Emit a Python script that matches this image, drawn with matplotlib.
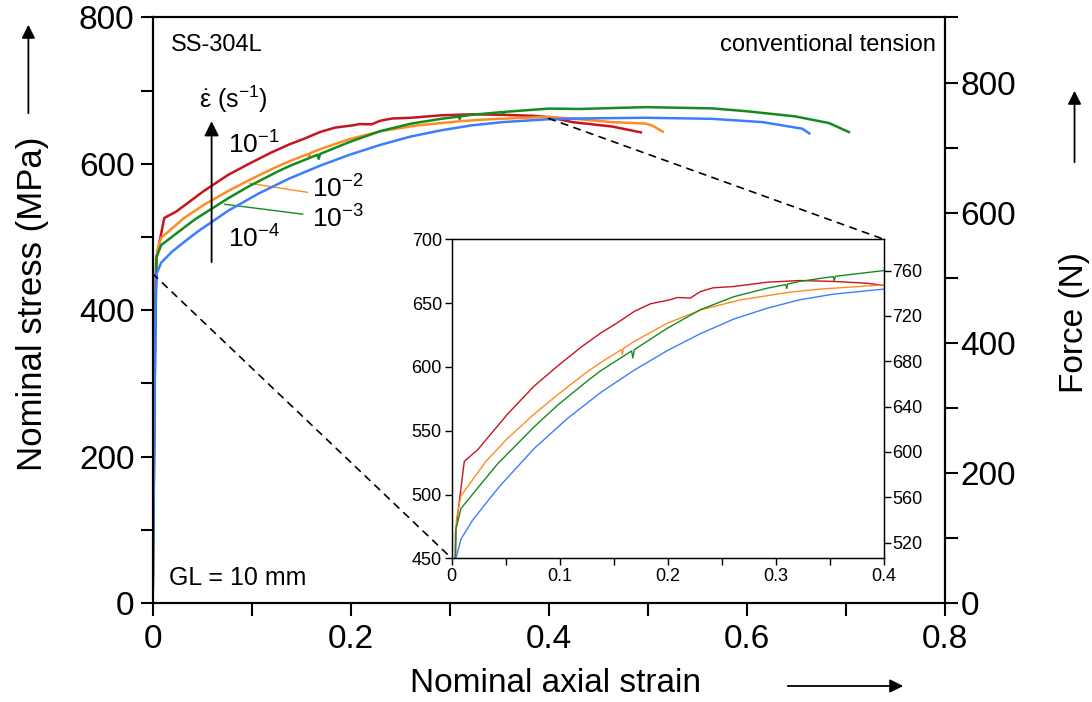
import numpy as np
import matplotlib
matplotlib.use('Agg')
import matplotlib.pyplot as plt
from matplotlib.patches import ConnectionPatch, FancyArrowPatch
from matplotlib.ticker import MultipleLocator, FixedLocator

plt.rcParams['font.family'] = ['Liberation Sans', 'DejaVu Sans']
plt.rcParams['mathtext.fontset'] = 'custom'
plt.rcParams['mathtext.rm'] = 'Liberation Sans'
plt.rcParams['mathtext.it'] = 'Liberation Sans:italic'

# strain rates and colours
rate_labels = ['$10^{-1}$', '$10^{-2}$', '$10^{-3}$', '$10^{-4}$']
colors = ['#C8141E', '#FF8C1E', '#168A1E', '#3C7DFF']

# nominal strain / nominal stress (MPa)
strain_1 = [0, 0.001, 0.002, 0.0035, 0.0117, 0.024, 0.0517, 0.0763, 0.0978, 0.119,
            0.138, 0.153, 0.169, 0.184, 0.202, 0.209, 0.221, 0.230, 0.242, 0.261,
            0.292, 0.322, 0.353, 0.384, 0.40, 0.424, 0.464, 0.493]
stress_1 = [0, 150, 330, 470, 526, 535, 563, 585, 600.5, 615,
            626.6, 634.4, 643.5, 649.5, 652.6, 654.4, 654, 659, 662, 663,
            666.4, 667.7, 667, 665.6, 663.8, 657, 651, 643]

strain_2 = [0, 0.001, 0.002, 0.003, 0.0045, 0.0086, 0.0317, 0.0517, 0.0763, 0.0978,
            0.122, 0.138, 0.157, 0.158, 0.159, 0.169, 0.199, 0.2317, 0.267, 0.312,
            0.341, 0.40, 0.431, 0.464, 0.498, 0.505, 0.515]
stress_2 = [0, 140, 300, 430, 481, 499, 526, 544, 563, 578,
            594, 603.5, 613.5, 610, 614.5, 620, 634, 645, 652.5, 658.5,
            661, 664.3, 661, 657, 655, 652, 644]

strain_3 = [0, 0.001, 0.002, 0.003, 0.004, 0.0086, 0.024, 0.0425, 0.0763, 0.098,
            0.127, 0.138, 0.1665, 0.1677, 0.169, 0.199, 0.230,
            0.261, 0.292, 0.309, 0.310, 0.311, 0.322, 0.353, 0.354, 0.355, 0.40,
            0.431, 0.498, 0.565, 0.599, 0.649, 0.683, 0.703]
stress_3 = [0, 140, 290, 420, 473, 489, 505, 524, 553, 570,
            590, 597, 612.5, 607, 613.5, 630, 644.8,
            655, 661.7, 664.5, 661.5, 665, 667, 670.8, 667.5, 671, 675.5,
            675, 677.5, 675.8, 672, 664.8, 655.7, 643.4]

strain_4 = [0, 0.001, 0.002, 0.003, 0.004, 0.0086, 0.0195, 0.0363, 0.0455, 0.0763,
            0.107, 0.138, 0.169, 0.199, 0.230, 0.261, 0.292, 0.322, 0.353, 0.40,
            0.431, 0.498, 0.565, 0.616, 0.656, 0.663]
stress_4 = [0, 130, 280, 400, 450, 465, 480, 498, 507.5, 536,
            559.5, 580, 597.5, 612.5, 626, 637.5, 646, 652.6, 657, 661,
            662, 663, 661.5, 657, 648, 641.6]

strains = [strain_1, strain_2, strain_3, strain_4]
stresses = [stress_1, stress_2, stress_3, stress_4]

area = 1.125  # force (N) per nominal stress (MPa)

fig = plt.figure(figsize=(10.92, 7.02), dpi=100)
ax = fig.add_axes([0.1398, 0.141, 0.7256, 0.8341])

for s, t, c in zip(strains, stresses, colors):
    ax.plot(s, t, color=c, lw=1.8, zorder=3)

ax.set_xlim(0, 0.8)
ax.set_ylim(0, 800)
ax.xaxis.set_major_locator(FixedLocator([0, 0.2, 0.4, 0.6, 0.8]))
ax.xaxis.set_minor_locator(MultipleLocator(0.1))
ax.yaxis.set_major_locator(MultipleLocator(200))
ax.yaxis.set_minor_locator(MultipleLocator(100))
ax.set_xticklabels(['0', '0.2', '0.4', '0.6', '0.8'])
ax.tick_params(axis='both', which='major', direction='out', length=9, width=1.5, labelsize=24)
ax.tick_params(axis='both', which='minor', direction='out', length=9, width=1.5)
ax.tick_params(axis='y', pad=4)
ax.tick_params(axis='x', pad=6)
for sp in ax.spines.values():
    sp.set_linewidth(1.5)

# right axis: force
ax2 = ax.twinx()
ax2.set_ylim(0, 800 * area)
ax2.yaxis.set_major_locator(MultipleLocator(200))
ax2.yaxis.set_minor_locator(MultipleLocator(100))
ax2.tick_params(axis='y', which='both', direction='out', length=9, width=1.5, labelsize=24, pad=2)
for sp in ax2.spines.values():
    sp.set_linewidth(1.5)

# axis titles with arrows
fig.text(555 / 1092, 1 - 684 / 702, 'Nominal axial strain', fontsize=24, ha='center', va='center')
fig.text(0.030, 0.567, 'Nominal stress (MPa)', rotation=90, fontsize=25, ha='center', va='center')
fig.text(1074 / 1092, 0.54, 'Force (N)', rotation=90, fontsize=24, ha='center', va='center')
for p0, p1 in [((0.026, 1 - 116 / 702), (0.026, 1 - 22 / 702)),
               ((0.984, 1 - 165 / 702), (0.984, 1 - 88 / 702)),
               ((785 / 1092, 1 - 686 / 702), (906 / 1092, 1 - 686 / 702))]:
    fig.patches.append(FancyArrowPatch(p0, p1, transform=fig.transFigure, arrowstyle='-|>',
                                       mutation_scale=20, lw=1.3, color='black'))

# annotations
ax.text(0.018, 762, 'SS-304L', fontsize=17, va='center', ha='left')
ax.text(0.791, 763, 'conventional tension', fontsize=17, va='center', ha='right')
ax.text(0.016, 34, 'GL = 10 mm', fontsize=18, va='center', ha='left')
ax.text(0.047, 688, r'$\mathrm{\dot{\varepsilon}}$ (s$^{-1}$)', fontsize=18, va='center', ha='left')
ax.annotate('', xy=(0.0595, 662), xytext=(0.0595, 462),
            arrowprops=dict(arrowstyle='-|>', mutation_scale=22, lw=1.3, color='black'))
ax.text(0.0757, 626, rate_labels[0], fontsize=19, va='center', ha='left')
ax.text(0.161, 566, rate_labels[1], fontsize=19, va='center', ha='left')
ax.text(0.161, 524, rate_labels[2], fontsize=19, va='center', ha='left')
ax.text(0.0757, 498, rate_labels[3], fontsize=19, va='center', ha='left')
ax.plot([0.0979, 0.1564], [573.4, 561.1], color=colors[1], lw=1.0)
ax.plot([0.0727, 0.1514], [544.8, 531.3], color=colors[2], lw=1.0)

# inset
axin = fig.add_axes([0.4136, 0.2047, 0.3959, 0.4544])
for s, t, c in zip(strains, stresses, colors):
    axin.plot(s, t, color=c, lw=1.0)
axin.set_xlim(0, 0.4)
axin.set_ylim(450, 700)
axin.xaxis.set_major_locator(FixedLocator([0, 0.1, 0.2, 0.3, 0.4]))
axin.xaxis.set_minor_locator(MultipleLocator(0.05))
axin.yaxis.set_major_locator(MultipleLocator(50))
axin.set_xticklabels(['0', '0.1', '0.2', '0.3', '0.4'])
axin.tick_params(axis='both', which='both', direction='out', length=5, width=1.0, labelsize=13, pad=2)
for sp in axin.spines.values():
    sp.set_linewidth(1.0)
axin2 = axin.twinx()
axin2.set_ylim(450 * area, 700 * area)
axin2.yaxis.set_major_locator(MultipleLocator(40))
axin2.tick_params(axis='y', direction='out', length=5, width=1.0, labelsize=13, pad=1)

for xa, xb in [((0, 450), (0, 450)), ((0.4, 662), (0.4, 700))]:
    con = ConnectionPatch(xyA=xa, coordsA=ax.transData, xyB=xb, coordsB=axin.transData,
                          linestyle=(0, (4, 4)), lw=1.2, color='black')
    fig.add_artist(con)

fig.savefig('out.png', dpi=100)
